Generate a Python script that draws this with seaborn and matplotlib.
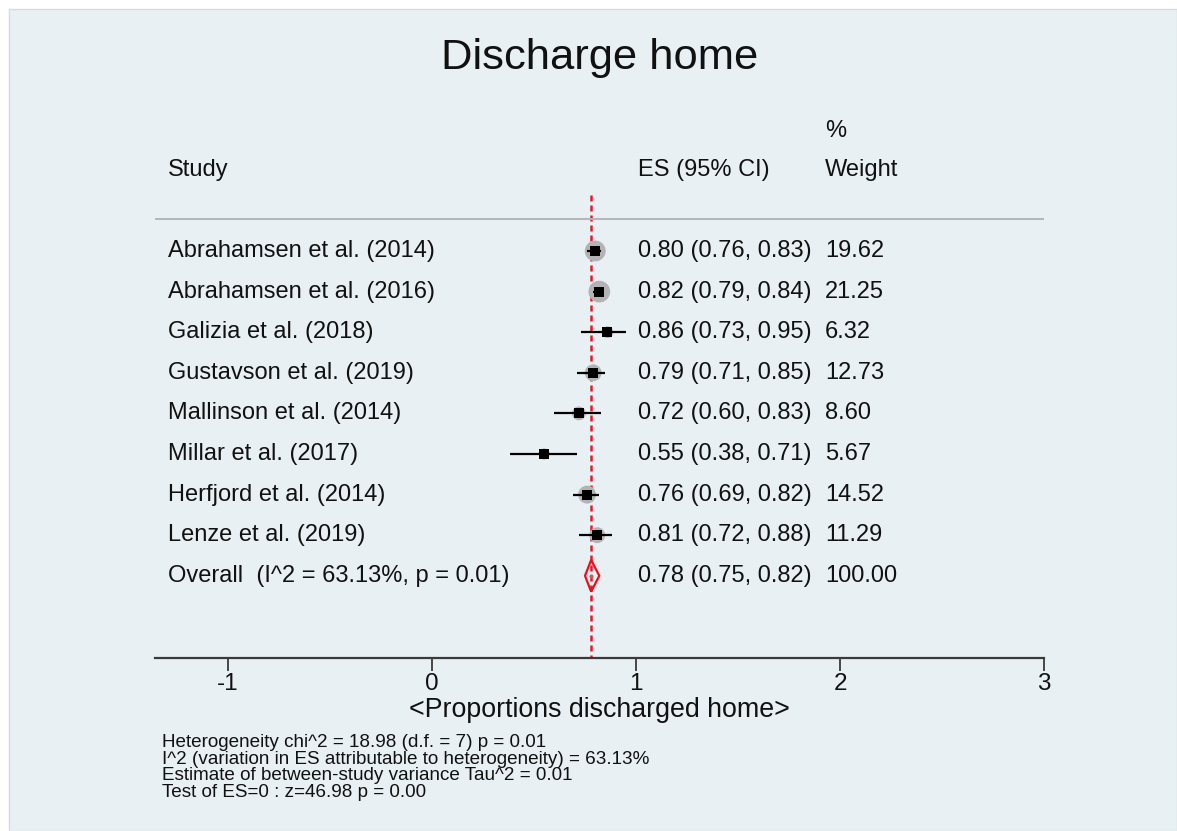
import numpy as np
import pandas as pd
import matplotlib
matplotlib.use("Agg")
import matplotlib.pyplot as plt
import seaborn as sns
from matplotlib.patches import Rectangle, Polygon

# ---------------- data ----------------
studies = ["Abrahamsen et al. (2014)", "Abrahamsen et al. (2016)", "Galizia et al. (2018)",
           "Gustavson et al. (2019)", "Mallinson et al. (2014)", "Millar et al. (2017)",
           "Herfjord et al. (2014)", "Lenze et al. (2019)"]
es = [0.80, 0.82, 0.86, 0.79, 0.72, 0.55, 0.76, 0.81]
ci_low = [0.76, 0.79, 0.73, 0.71, 0.60, 0.38, 0.69, 0.72]
ci_high = [0.83, 0.84, 0.95, 0.85, 0.83, 0.71, 0.82, 0.88]
weights = [19.62, 21.25, 6.32, 12.73, 8.60, 5.67, 14.52, 11.29]

overall_label = "Overall  (I^2 = 63.13%, p = 0.01)"
overall_es = 0.78
overall_low = 0.75
overall_high = 0.82
overall_weight = 100.00

xticks = [-1, 0, 1, 2, 3]
title = "Discharge home"
xlabel = "<Proportions discharged home>"
footer = ["Heterogeneity chi^2 = 18.98 (d.f. = 7) p = 0.01",
          "I^2 (variation in ES attributable to heterogeneity) = 63.13%",
          "Estimate of between-study variance Tau^2 = 0.01",
          "Test of ES=0 : z=46.98 p = 0.00"]

# ---------------- style ----------------
sns.set_style("white")
plt.rcParams["font.family"] = ["Liberation Sans", "DejaVu Sans"]
BG = "#e9f0f3"
W, H = 1177, 831

fig = plt.figure(figsize=(W / 100, H / 100), dpi=100)
fig.patch.set_facecolor("white")
bgrect = Rectangle((9 / W, 0), 1 - 9 / W, (H - 9) / H, transform=fig.transFigure,
                   facecolor=BG, edgecolor="#d6dbde", linewidth=1.0, zorder=-10)
fig.patches.append(bgrect)

def px(x0, y0, x1, y1):
    return [x0 / W, 1 - y1 / H, (x1 - x0) / W, (y1 - y0) / H]

ax = fig.add_axes(px(155, 87, 1044, 658))
ax.set_facecolor("none")
ax.set_zorder(5)

# row geometry (row index units)
row0_px, row_step = 251, 40.6
y_top = (87 - row0_px) / row_step
y_bot = (658 - row0_px) / row_step
ax.set_xlim(-1.358, 3.0)
ax.set_ylim(y_bot, y_top)

df = pd.DataFrame({"study": studies, "es": es, "lo": ci_low, "hi": ci_high,
                   "weight": weights, "row": np.arange(len(studies))})
df["area"] = df["weight"] * 11.5

# grey weight circles
sns.scatterplot(data=df, x="es", y="row", s=df["area"].values, color="#b3b3b3",
                edgecolor="none", linewidth=0, ax=ax, zorder=2, legend=False)
# CI lines
ax.hlines(df["row"], df["lo"], df["hi"], color="black", linewidth=1.6, zorder=3)
# point estimates
sns.scatterplot(data=df, x="es", y="row", marker="s", s=52, color="black",
                edgecolor="black", linewidth=0, ax=ax, zorder=4, legend=False)

# overall diamond
yo = len(studies)
dh = 0.39
diamond = Polygon([(overall_low, yo), (overall_es, yo - dh), (overall_high, yo), (overall_es, yo + dh)],
                  closed=True, facecolor="none", edgecolor="#e8101e", linewidth=1.6, zorder=5)
ax.add_patch(diamond)
ax.plot([overall_es], [yo], marker="o", markersize=2, color="#c06060", zorder=6)

# overall dashed line
ax.plot([overall_es, overall_es], [(195 - row0_px) / row_step, y_bot], color="#e21b2c",
        linewidth=1.8, dashes=(2.4, 1.6), zorder=1)

# header separator
ax.axhline((219 - row0_px) / row_step, color="#b3b6b8", linewidth=1.4, zorder=1)

# text columns
def dx(p):
    return (p - 432) / 204.0

tfs = 17
for i, r in df.iterrows():
    ax.text(dx(168), r["row"], r["study"], fontsize=tfs, va="center", ha="left", color="#111111")
    ax.text(dx(638), r["row"], f"{r['es']:.2f} ({r['lo']:.2f}, {r['hi']:.2f})", fontsize=tfs,
            va="center", ha="left", color="#111111")
    ax.text(dx(825), r["row"], f"{r['weight']:.2f}", fontsize=tfs, va="center", ha="left", color="#111111")
ax.text(dx(168), yo, overall_label, fontsize=tfs, va="center", ha="left", color="#111111")
ax.text(dx(638), yo, f"{overall_es:.2f} ({overall_low:.2f}, {overall_high:.2f})", fontsize=tfs,
        va="center", ha="left", color="#111111")
ax.text(dx(825), yo, f"{overall_weight:.2f}", fontsize=tfs, va="center", ha="left", color="#111111")

# headers
hy = (170 - row0_px) / row_step
ax.text(dx(168), hy, "Study", fontsize=tfs, va="center", ha="left", color="#111111")
ax.text(dx(638), hy, "ES (95% CI)", fontsize=tfs, va="center", ha="left", color="#111111")
ax.text(dx(825), hy, "Weight", fontsize=tfs, va="center", ha="left", color="#111111")
ax.text(dx(825), (131 - row0_px) / row_step, "%", fontsize=tfs, va="center", ha="left", color="#111111")

# axes styling
for s in ["top", "left", "right"]:
    ax.spines[s].set_visible(False)
ax.spines["bottom"].set_color("#3a3a3a")
ax.spines["bottom"].set_linewidth(1.6)
ax.set_yticks([])
ax.set_xticks(xticks)
ax.set_xticklabels([str(t) for t in xticks])
ax.tick_params(axis="x", direction="out", length=9, width=1.3, color="#3a3a3a",
               labelsize=17.5, pad=2, labelcolor="#111111", bottom=True)
ax.set_xlabel(xlabel, fontsize=19.3, labelpad=1, color="#111111")
ax.set_ylabel("")

# title
fig.text(600 / W, 1 - 58 / H, title, fontsize=31.3, ha="center", va="center", color="#111111")

# footer
for k, line in enumerate(footer):
    fig.text(162 / W, 1 - (747 + 16.7 * k) / H, line, fontsize=13.55, ha="left", va="baseline",
             color="#111111")

fig.savefig("out.png", dpi=100, facecolor=fig.get_facecolor())
